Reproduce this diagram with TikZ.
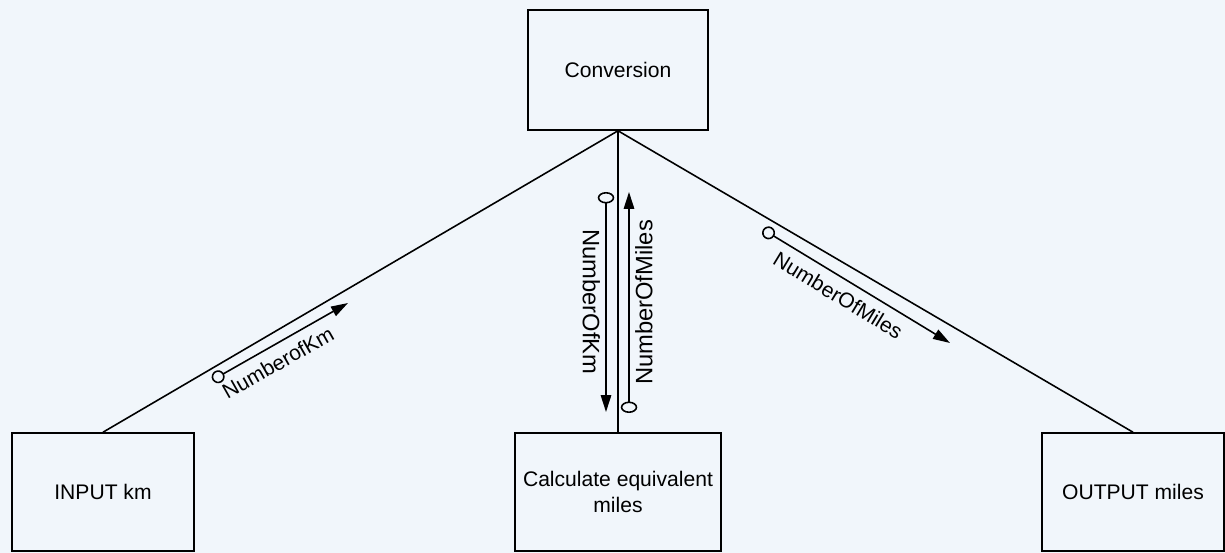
\documentclass[tikz,border=0pt]{standalone}
\usepackage{fontspec}
\setmainfont{Liberation Sans}
\usetikzlibrary{arrows.meta}
\definecolor{paper}{RGB}{241,246,251}

\begin{document}
\begin{tikzpicture}[
    module/.style={draw, line width=0.9pt, minimum width=3.64cm, minimum height=2.36cm, align=center, font=\fontsize{12}{15}\selectfont},
    couple/.style={line width=0.9pt, {Circle[open, length=2.6mm, width=2.6mm]}-{Triangle[length=3.4mm, width=2.1mm]}},
    upright/.style={{Circle[open, length=2.3mm, width=3.3mm]}-{Triangle[length=3.4mm, width=2.1mm]}},
    lbl/.style={font=\fontsize{12}{14}\selectfont, sloped, below, inner sep=3pt}
]
    \fill[paper] (0, 0) rectangle (24.5, -11.06);
    \useasboundingbox (0, 0) rectangle (24.5, -11.06);

    \node[module, minimum width=3.6cm, minimum height=2.4cm] (conv) at (12.36, -1.4) {Conversion};
    \node[module] (input) at (2.06, -9.84) {INPUT km};
    \node[module, minimum width=4.12cm] (calc) at (12.36, -9.84) {Calculate equivalent\\miles};
    \node[module] (output) at (22.66, -9.84) {OUTPUT miles};

    \draw[line width=0.9pt] (conv.south) -- (input.north);
    \draw[line width=0.9pt] (conv.south) -- (calc.north);
    \draw[line width=0.9pt] (conv.south) -- (output.north);

    \coordinate (kmA) at (4.25, -7.6);
    \coordinate (kmB) at (6.96, -6.06);
    \coordinate (kmC) at (12.12, -3.84);
    \coordinate (kmD) at (12.12, -8.24);
    \coordinate (miA) at (12.58, -8.26);
    \coordinate (miB) at (12.58, -3.84);
    \coordinate (miC) at (15.26, -4.59);
    \coordinate (miD) at (19.0, -6.86);

    \draw[couple] (kmA) -- node[lbl, pos=0.42, inner sep=5pt] (kmlbl) {NumberofKm} (kmB);
    \draw[couple, upright] (kmC) -- node[lbl, font=\fontsize{13.5}{15}\selectfont] (kmcalc) {NumberOfKm} (kmD);
    \draw[couple, upright] (miA) -- node[lbl, font=\fontsize{13.5}{15}\selectfont] (micalc) {NumberOfMiles} (miB);
    \draw[couple] (miC) -- node[lbl, pos=0.45, inner sep=5pt] (milbl) {NumberOfMiles} (miD);
\end{tikzpicture}
\end{document}
